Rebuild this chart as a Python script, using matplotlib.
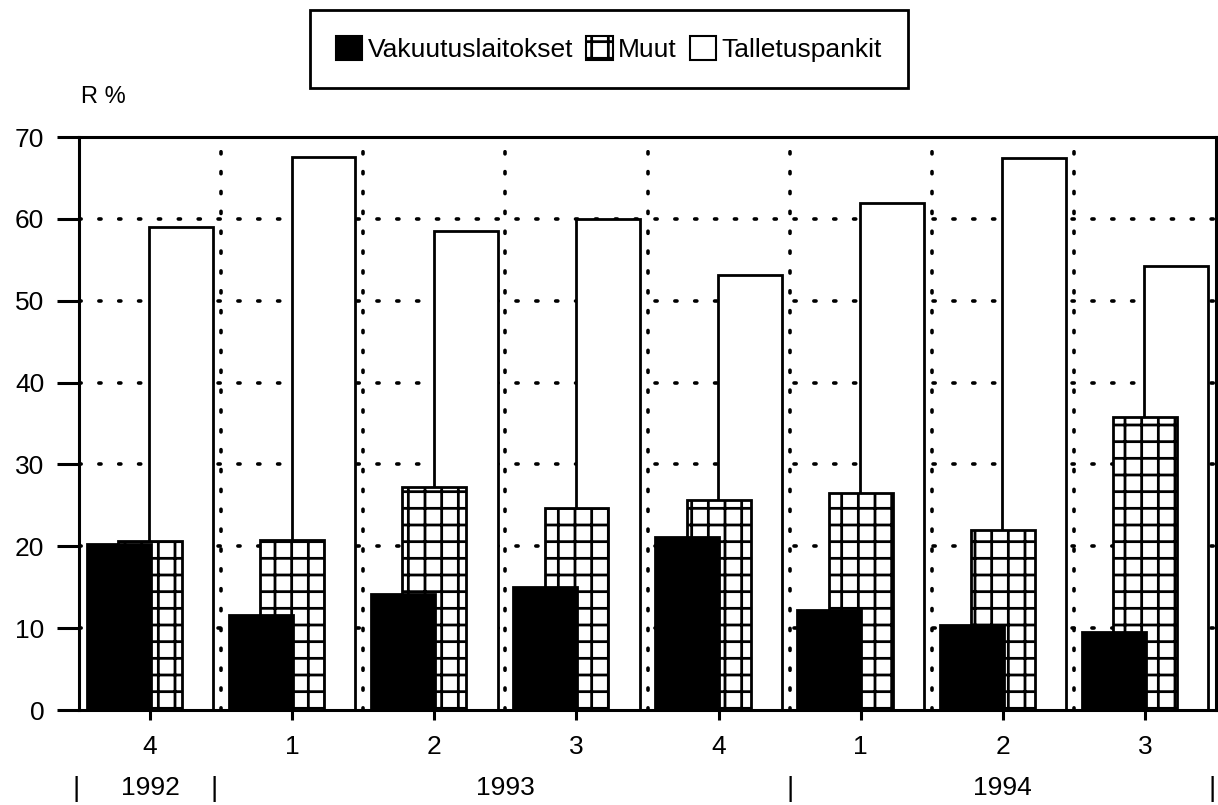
import numpy as np
import matplotlib
matplotlib.use("Agg")
import matplotlib.pyplot as plt
from matplotlib.patches import Patch
import matplotlib.transforms as mtransforms

plt.rcParams['font.family'] = ['Liberation Sans', 'DejaVu Sans']
plt.rcParams['hatch.linewidth'] = 2.0

# quarters 1992 Q4 .. 1994 Q3
quarters = ["4", "1", "2", "3", "4", "1", "2", "3"]
years = ["1992", "1993", "1994"]
vakuutus = [20.3, 11.6, 14.2, 15.0, 21.1, 12.2, 10.4, 9.5]
muut = [20.6, 20.8, 27.2, 24.7, 25.6, 26.5, 22.0, 35.8]
talletus = [59.0, 67.5, 58.5, 60.0, 53.2, 61.9, 67.4, 54.3]

x = np.arange(len(quarters))
w = 0.45
off = 0.22
fs = 19

fig = plt.figure(figsize=(12.18, 8.05), dpi=100)
ax = fig.add_axes([0.0649, 0.118, 0.9335, 0.7118])

dots = (0, (0.6, 4.9))
for yv in range(10, 70, 10):
    ax.axhline(yv, color='black', lw=2.6, ls=dots, dash_capstyle='round', zorder=1)
for xv in np.arange(0.5, len(quarters) - 1, 1.0):
    ax.axvline(xv, color='black', lw=2.6, ls=dots, dash_capstyle='round', zorder=1)

ax.bar(x + off, talletus, w, color='white', edgecolor='black', lw=2, zorder=2)
ax.bar(x, muut, w, color='white', edgecolor='black', hatch='+', lw=2, zorder=3)
ax.bar(x - off, vakuutus, w, color='black', edgecolor='black', lw=2, zorder=4)

ax.set_xlim(-0.5, len(quarters) - 0.5)
ax.set_ylim(0, 70)
ax.set_yticks(range(0, 80, 10))
ax.set_xticks(x)
ax.set_xticklabels(quarters)
for s in ax.spines.values():
    s.set_linewidth(2.2)
ax.tick_params(axis='y', length=16, width=2.2, labelsize=fs, pad=9)
ax.tick_params(axis='x', length=7, width=2.2, labelsize=fs, pad=11)

# year row under the quarter labels
trans = mtransforms.blended_transform_factory(ax.transData, ax.transAxes)
year_pos = [0, 2.5, 6]
for xp, yr in zip(year_pos, years):
    ax.text(xp, -0.136, yr, transform=trans, ha='center', va='center', fontsize=fs)
for xp in [-0.52, 0.45, 4.5, 7.47]:
    ax.text(xp, -0.138, "|", transform=trans, ha='center', va='center', fontsize=20)

ax.text(0.002, 1.05, "R %", transform=ax.transAxes, ha='left', va='bottom', fontsize=17)

handles = [Patch(facecolor='black', edgecolor='black', lw=1.5),
           Patch(facecolor='white', edgecolor='black', hatch='+', lw=1.5),
           Patch(facecolor='white', edgecolor='black', lw=1.5)]
leg = fig.legend(handles, ["Vakuutuslaitokset", "Muut", "Talletuspankit"],
                 loc='center', bbox_to_anchor=(0.5, 0.939), ncol=3, fontsize=fs,
                 handlelength=1.0, handleheight=1.0, handletextpad=0.2,
                 columnspacing=0.5, borderpad=1.0, borderaxespad=0, fancybox=False,
                 edgecolor='black', framealpha=1)
leg.get_frame().set_linewidth(2)

fig.savefig("out.png", dpi=100)
